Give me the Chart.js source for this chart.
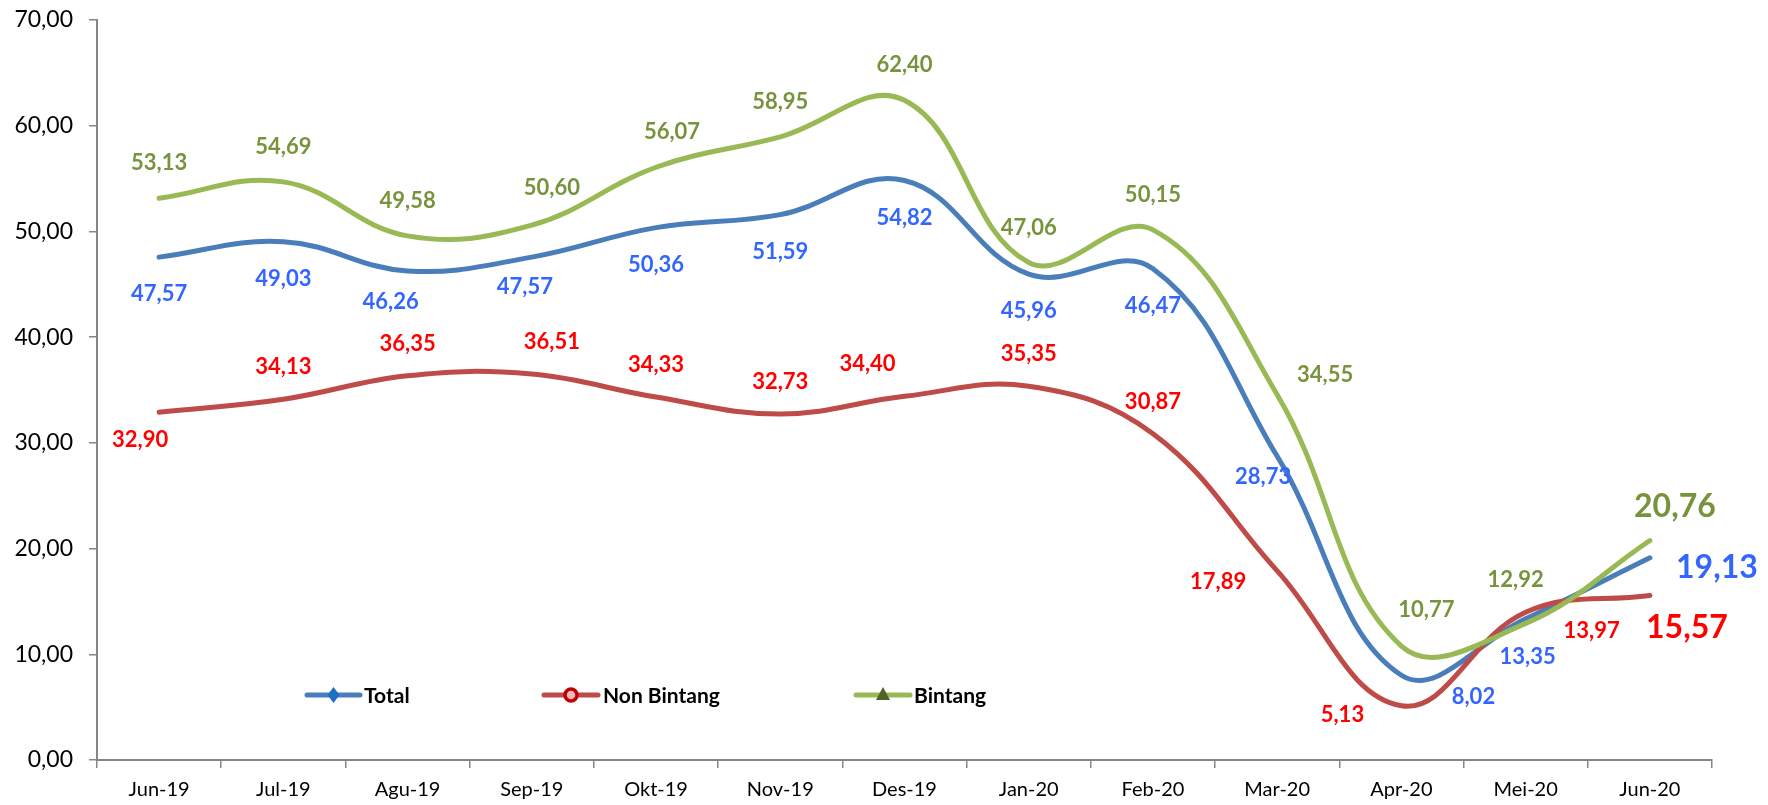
<!DOCTYPE html>
<html><head><meta charset="utf-8">
<script src="https://cdn.jsdelivr.net/npm/chart.js@4.4.1/dist/chart.umd.min.js"></script>
<style>html,body{margin:0;padding:0;background:#fff}#wrap{width:1768px;height:805px;position:relative}</style>
</head><body><div id="wrap"><canvas id="c" width="1768" height="805"></canvas></div>
<script>
const categories = ['Jun-19','Jul-19','Agu-19','Sep-19','Okt-19','Nov-19','Des-19','Jan-20','Feb-20','Mar-20','Apr-20','Mei-20','Jun-20'];
const totalValues = [47.57,49.03,46.26,47.57,50.36,51.59,54.82,45.96,46.47,28.73,8.02,13.35,19.13];
const nonBintangValues = [32.90,34.13,36.35,36.51,34.33,32.73,34.40,35.35,30.87,17.89,5.13,13.97,15.57];
const bintangValues = [53.13,54.69,49.58,50.60,56.07,58.95,62.40,47.06,50.15,34.55,10.77,12.92,20.76];
const seriesNames = ['Total','Non Bintang','Bintang'];
const yMin = 0, yMax = 70, yStep = 10;

const FONT = 'Lato, "Open Sans", sans-serif';
const fmt = v => v.toFixed(2).replace('.', ',');

// label placement style (offsets in px relative to the point)
const labelStyle = [
  {color:'#3366FF', dx:0, dy:37, over:{2:[-17,31],3:[-7,30],9:[-14,21],10:[72,22],11:[2,38],12:[67,10]}},
  {color:'#FF0000', dx:0, dy:-32, over:{0:[-19,28],3:[20,-32],6:[-37,-32],9:[-59,11],10:[-59,9],11:[66,19],12:[37,32]}},
  {color:'#77933C', dx:0, dy:-35, over:{3:[20,-37],4:[16,-35],9:[48,-20],10:[25,-36],11:[-10,-44],12:[25,-34]}}
];
const legendStyle = [
  {x1:307, x2:360, tx:364, marker:'diamond', mColor:'#1F6FC5'},
  {x1:544, x2:598, tx:603, marker:'circle', mColor:'#C00000'},
  {x1:856, x2:910, tx:914, marker:'triangle', mColor:'#4F6228'}
];
const legendY = 695;

const dataLabels = {
  id:'dataLabels',
  afterDatasetsDraw(chart){
    const ctx = chart.ctx;
    ctx.save();
    ctx.textAlign = 'center';
    ctx.textBaseline = 'middle';
    chart.data.datasets.forEach((ds, di) => {
      const meta = chart.getDatasetMeta(di);
      const st = labelStyle[di];
      meta.data.forEach((pt, i) => {
        const o = st.over[i] || [st.dx, st.dy];
        const last = i === ds.data.length - 1;
        ctx.font = 'bold ' + (last ? 32 : 22) + 'px ' + FONT;
        ctx.fillStyle = st.color;
        ctx.fillText(fmt(ds.data[i]), pt.x + o[0], pt.y + o[1]);
      });
    });
    ctx.restore();
  }
};

const legendPlugin = {
  id:'customLegend',
  afterDraw(chart){
    const ctx = chart.ctx;
    ctx.save();
    chart.data.datasets.forEach((ds, di) => {
      const ls = legendStyle[di];
      ctx.strokeStyle = ds.borderColor;
      ctx.lineWidth = 5;
      ctx.lineCap = 'round';
      ctx.beginPath(); ctx.moveTo(ls.x1, legendY); ctx.lineTo(ls.x2, legendY); ctx.stroke();
      const cx = (ls.x1 + ls.x2) / 2;
      ctx.fillStyle = ls.mColor;
      if (ls.marker === 'diamond') {
        ctx.beginPath(); ctx.moveTo(cx, legendY-8); ctx.lineTo(cx+6, legendY); ctx.lineTo(cx, legendY+8); ctx.lineTo(cx-6, legendY); ctx.closePath(); ctx.fill();
      } else if (ls.marker === 'circle') {
        ctx.beginPath(); ctx.arc(cx, legendY, 6, 0, Math.PI*2); ctx.fillStyle = '#F2B8B8'; ctx.fill();
        ctx.lineWidth = 3.5; ctx.strokeStyle = ls.mColor; ctx.stroke();
      } else {
        ctx.beginPath(); ctx.moveTo(cx, legendY-8); ctx.lineTo(cx+7, legendY+5); ctx.lineTo(cx-7, legendY+5); ctx.closePath(); ctx.fill();
      }
      ctx.fillStyle = '#000';
      ctx.font = 'bold 21px ' + FONT;
      ctx.textAlign = 'left';
      ctx.textBaseline = 'middle';
      ctx.fillText(ds.label, ls.tx, legendY + 1);
    });
    ctx.restore();
  }
};

const mk = (label, data, color, order) => ({
  label, data, borderColor: color, backgroundColor: color, borderWidth: 5,
  pointRadius: 0, pointHoverRadius: 0, tension: 0.4, fill: false, order,
  borderCapStyle: 'round', borderJoinStyle: 'round'
});

new Chart(document.getElementById('c'), {
  type: 'line',
  data: {
    labels: categories,
    datasets: [
      mk(seriesNames[0], totalValues, '#4A7EBB', 3),
      mk(seriesNames[1], nonBintangValues, '#BE4B48', 2),
      mk(seriesNames[2], bintangValues, '#98B954', 1)
    ]
  },
  options: {
    responsive: false,
    animation: false,
    devicePixelRatio: 1,
    layout: { padding: { top: 20, right: 56, left: 0, bottom: 0 } },
    plugins: { legend: { display: false }, tooltip: { enabled: false } },
    scales: {
      x: {
        offset: true,
        grid: { offset: true, drawOnChartArea: false, drawTicks: true, tickLength: 8, color: '#868686', lineWidth: 1.5 },
        border: { color: '#868686', width: 2 },
        ticks: { color: '#000', font: { family: FONT, size: 20 }, padding: 10, maxRotation: 0, autoSkip: false },
        afterFit: s => { s.height = 45; }
      },
      y: {
        min: yMin, max: yMax,
        grid: { drawOnChartArea: false, drawTicks: true, tickLength: 8, color: '#868686', lineWidth: 1.5 },
        border: { color: '#868686', width: 2 },
        ticks: { stepSize: yStep, color: '#000', font: { family: FONT, size: 23 }, padding: 16, callback: v => fmt(v) },
        afterFit: s => { s.width = 97; s.paddingTop = 0; s.paddingBottom = 0; }
      }
    }
  },
  plugins: [dataLabels, legendPlugin]
});
</script></body></html>
